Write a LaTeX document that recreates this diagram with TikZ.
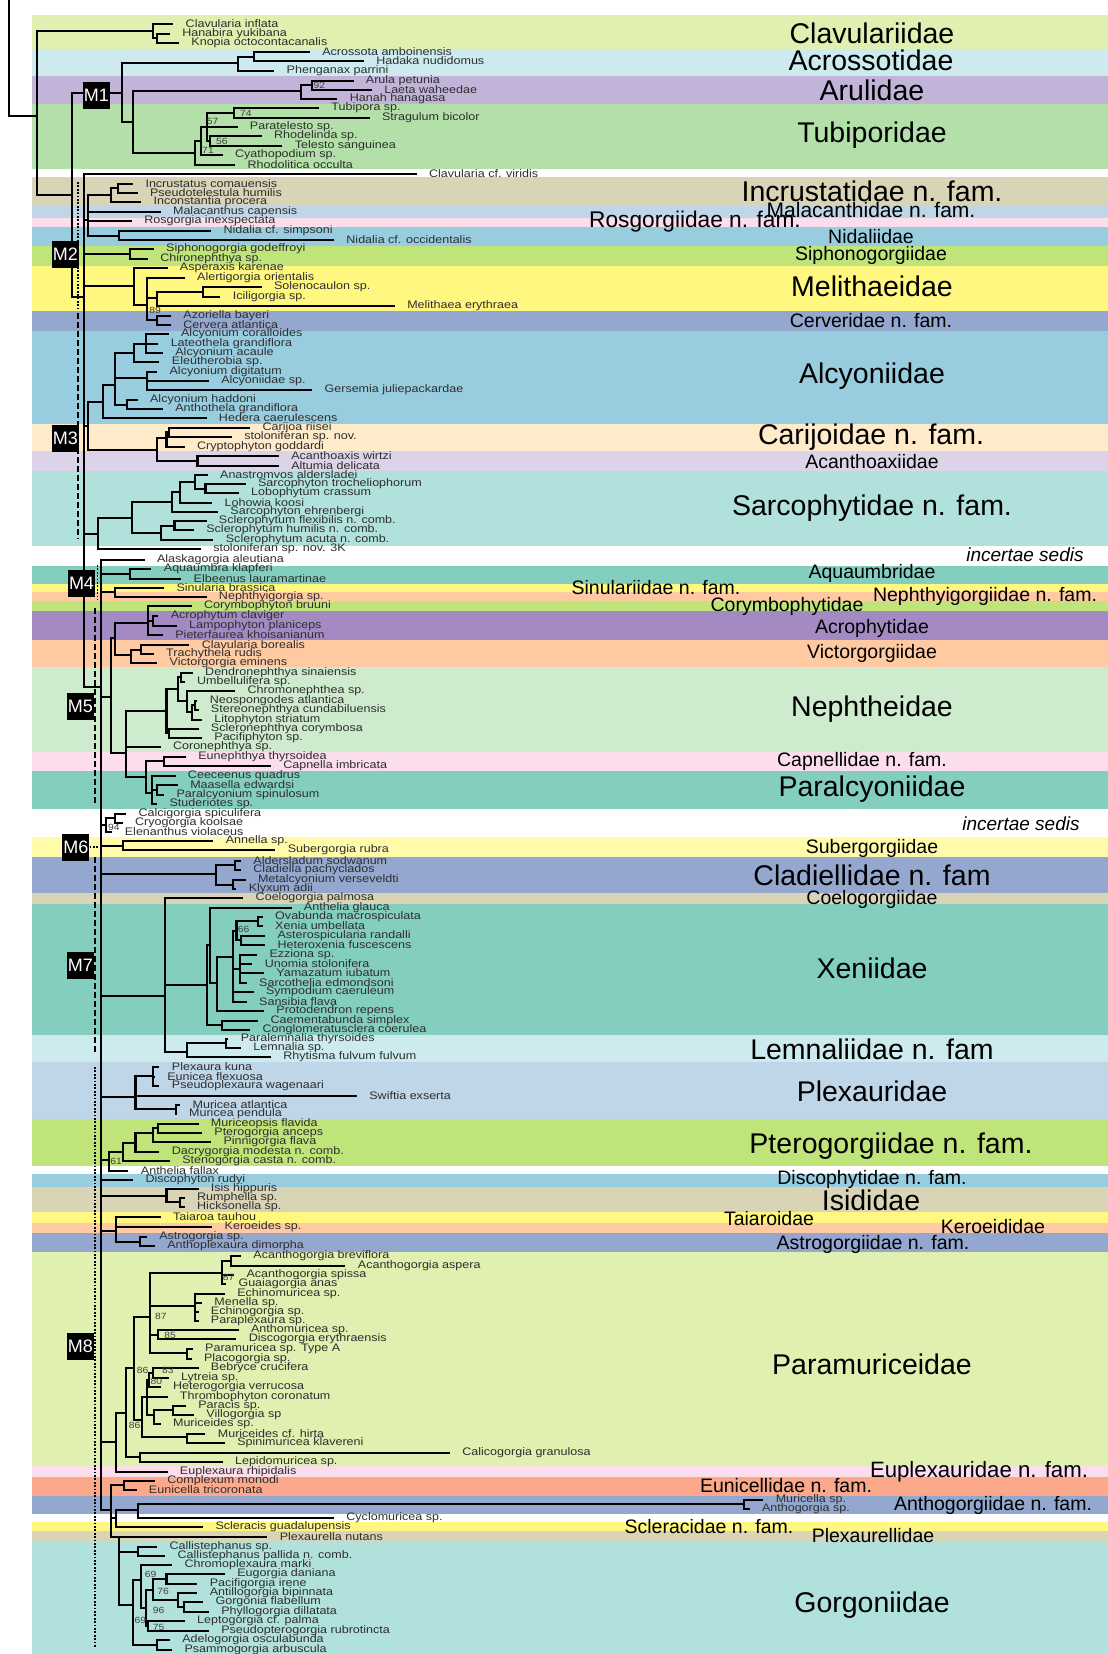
\documentclass[tikz,border=0pt]{standalone}
\usepackage{fontspec}
\setmainfont{Liberation Sans}
\newfontfamily\tipf[FakeStretch=1.15]{Liberation Sans}
\definecolor{cClav}{HTML}{E0F0B0}
\definecolor{cAcro}{HTML}{CDEBEF}
\definecolor{cAru}{HTML}{C2B3D9}
\definecolor{cTub}{HTML}{B3E0A8}
\definecolor{cTan}{HTML}{D9D4B6}
\definecolor{cLB}{HTML}{BED6E8}
\definecolor{cPink}{HTML}{FBDDEC}
\definecolor{cBlue}{HTML}{98CDDF}
\definecolor{cGreen}{HTML}{BFE479}
\definecolor{cYel}{HTML}{FFF77F}
\definecolor{cSlate}{HTML}{93A7CF}
\definecolor{cPeachL}{HTML}{FFEBC9}
\definecolor{cLav}{HTML}{DCD3E9}
\definecolor{cTealL}{HTML}{B1E1DC}
\definecolor{cTeal}{HTML}{83CEBE}
\definecolor{cPeach}{HTML}{FFC9A1}
\definecolor{cPurp}{HTML}{A48AC3}
\definecolor{cNeph}{HTML}{CEEBCE}
\definecolor{cYelL}{HTML}{FFFBAA}
\definecolor{cSalmon}{HTML}{FBA98A}
\begin{document}
\begin{tikzpicture}[x=1pt,y=-1pt,
  br/.style={line width=2.1pt,line cap=rect,line join=miter},
  tip/.style={anchor=west,inner xsep=13.5pt,inner ysep=0pt,outer sep=0pt,text=black!82,font=\tipf\fontsize{10.9}{11}\selectfont},
  famL/.style={font=\fontsize{28.5}{29}\selectfont,inner sep=0pt},
  famM/.style={font=\fontsize{19.5}{20}\selectfont,inner sep=0pt},
  famI/.style={font=\fontsize{19}{20}\selectfont\itshape,inner sep=0pt},
  bs/.style={anchor=west,inner sep=0pt,text=black!75,font=\tipf\fontsize{9}{9}\selectfont},
  mbox/.style={fill=black,text=white,minimum width=27pt,minimum height=27pt,inner sep=0pt,font=\fontsize{18}{18}\selectfont},
  dotl/.style={line width=1.7pt,dash pattern=on 1.7pt off 1.7pt},
  dashl/.style={line width=1.7pt,dash pattern=on 5.5pt off 3.5pt}]
\path[use as bounding box] (0,0) rectangle (1108,1654);
\begin{scope}[xscale=1.148]
% bands
\foreach \a/\b/\c in {15/49/cClav,49/76/cAcro,76/104/cAru,104/169/cTub,177/206/cTan,206/218/cLB,218/227/cPink,227/246/cBlue,246/266/cGreen,266/311/cYel,311/331/cSlate,331/424/cBlue,424/451/cPeachL,451/471/cLav,471/546/cTealL,566/584/cTeal,584/592/cYel,592/601/cPeach,601/611/cGreen,611/640/cPurp,640/667/cPeach,667/752/cNeph,752/771/cPink,771/809/cTeal,837/857/cYelL,857/893/cSlate,893/904/cTan,904/1035/cTeal,1035/1062/cAcro,1062/1119/cLB,1119/1166/cGreen,1174/1187/cBlue,1187/1212/cTan,1212/1223/cYel,1223/1233/cPeach,1233/1252/cSlate,1252/1466/cClav,1466/1477/cPink,1477/1496/cSalmon,1496/1514/cSlate,1522/1531/cYel,1531/1541/cTan,1541/1654/cTealL}
  \fill[\c] (28,\a) rectangle (1000,\b);
\end{scope}
% family labels
\foreach \n/\x/\y/\t in {fa1/872/33/Clavulariidae,fa2/871/60/Acrossotidae,fa3/872/90/Arulidae,fa4/872/135/Tubiporidae,fa5/872/191/Incrustatidae n. fam.,fa6/872/376/Alcyoniidae,fa7/872/286/Melithaeidae,fa8/871/437/Carijoidae n. fam.,fa9/872/508/Sarcophytidae n. fam.,fa10/872/709/Nephtheidae,fa11/872/789/Paralcyoniidae,fa12/872/875/Cladiellidae n. fam,fa13/872/968/Xeniidae,fa14/872/1049/Lemnaliidae n. fam,fa15/872/1091/Plexauridae,fa16/891/1146/Pterogorgiidae n. fam.,fa17/871/1200/Isididae,fa18/872/1364/Paramuriceidae,fa19/872/1605/Gorgoniidae}
  \node[famL] (\n) at (\x,\y) {\t};
\foreach \n/\x/\y/\t in {fb3/871/237/Nidaliidae,fb4/871/255/Siphonogorgiidae,fb5/871/321/Cerveridae n. fam.,fb6/872/462/Acanthoaxiidae,fb7/872/573/Aquaumbridae,fb8/656/588/Sinulariidae n. fam.,fb9/985/596/Nephthyigorgiidae n. fam.,fb10/787/606/Corymbophytidae,fb11/872/628/Acrophytidae,fb12/872/653/Victorgorgiidae,fb13/862/761/Capnellidae n. fam.,fb14/872/848/Subergorgiidae,fb15/872/899/Coelogorgiidae,fb16/872/1179/Discophytidae n. fam.,fb17/769/1219/Taiaroidae,fb18/993/1227/Keroeididae,fb19/873/1244/Astrogorgiidae n. fam.,fb21/786/1486/Eunicellidae n. fam.,fb22/993/1505/Anthogorgiidae n. fam.,fb23/709/1527/Scleracidae n. fam.,fb24/873/1536/Plexaurellidae}
  \node[famM] (\n) at (\x,\y) {\t};
\node[famM,font=\fontsize{21}{22}\selectfont] (fb1) at (871,210) {Malacanthidae n. fam.};
\node[famM,font=\fontsize{22.7}{23}\selectfont] (fb2) at (695,222) {Rosgorgiidae n. fam.};
\node[famM,font=\fontsize{22.2}{23}\selectfont] (fb20) at (979,1472) {Euplexauridae n. fam.};
\node[famI] (fi1) at (1025,555) {incertae sedis};
\node[famI] (fi2) at (1021,824) {incertae sedis};
\begin{scope}[xscale=1.148]
% tips
\foreach \n/\x/\y/\t in {t1/150/24/Clavularia inflata,t2/147/34/Hanabira yukibana,t3/155/43/Knopia octocontacanalis,t4/269/52/Acrossota amboinensis,t5/316/61/Hadaka nudidomus,t6/238/71/Phenganax parrini,t7/307/81/Arula petunia,t8/323/90/Laeta waheedae,t9/293/99/Hanah hanagasa,t10/277/108/Tubipora sp.,t11/321/118/Stragulum bicolor,t12/206/127/Paratelesto sp.,t13/227/136/Rhodelinda sp.,t14/245/146/Telesto sanguinea,t15/193/155/Cyathopodium sp.,t16/204/165/Rhodolitica occulta,t17/362/174/Clavularia cf. viridis,t18/115/184/Incrustatus comauensis,t19/119/193/Pseudotelestula humilis,t20/122/202/Inconstantia procera,t21/139/212/Malacanthus capensis,t22/114/221/Rosgorgia inexspectata,t23/183/231/Nidalia cf. simpsoni,t24/290/240/Nidalia cf. occidentalis,t25/133/249/Siphonogorgia godeffroyi,t26/128/259/Chironephthya sp.,t27/145/268/Asperaxis karenae,t28/160/278/Alertigorgia orientalis,t29/227/287/Solenocaulon sp.,t30/191/297/Iciligorgia sp.,t31/343/306/Melithaea erythraea,t32/148/316/Azoriella bayeri,t33/148/325/Cervera atlantica,t34/146/334/Alcyonium coralloides,t35/137/344/Lateothela grandiflora,t36/141/353/Alcyonium acaule,t37/138/362/Eleutherobia sp.,t38/136/372/Alcyonium digitatum,t39/181/381/Alcyoniidae sp.,t40/271/390/Gersemia juliepackardae,t41/119/400/Alcyonium haddoni,t42/141/409/Anthothela grandiflora,t43/179/418/Hedera caerulescens,t44/217/428/Carijoa riisei,t45/201/437/stoloniferan sp. nov.,t46/160/447/Cryptophyton goddardi,t47/242/456/Acanthoaxis wirtzi,t48/242/466/Altumia delicata,t49/180/475/Anastromvos aldersladei,t50/213/484/Sarcophyton trocheliophorum,t51/207/493/Lobophytum crassum,t52/184/503/Lohowia koosi,t53/189/512/Sarcophyton ehrenbergi,t54/179/521/Sclerophytum flexibilis n. comb.,t55/168/530/Sclerophytum humilis n. comb.,t56/185/540/Sclerophytum acuta n. comb.,t57/174/549/stoloniferan sp. nov. 3K,t58/125/560/Alaskagorgia aleutiana,t59/131/569/Aquaumbra klapferi,t60/157/579/Elbeenus lauramartinae,t61/142/588/Sinularia brassica,t62/179/597/Nephthyigorgia sp.,t63/166/606/Corymbophyton bruuni,t64/137/616/Acrophytum claviger,t65/153/626/Lampophyton planiceps,t66/141/635/Pieterfaurea khoisanianum,t67/164/645/Clavularia borealis,t68/133/654/Trachythela rudis,t69/136/663/Victorgorgia eminens,t70/167/673/Dendronephthya sinaiensis,t71/160/682/Umbellulifera sp.,t72/204/691/Chromonephthea sp.,t73/171/701/Neospongodes atlantica,t74/172/710/Stereonephthya cundabiluensis,t75/175/720/Litophyton striatum,t76/172/729/Scleronephthya corymbosa,t77/175/738/Pacifiphyton sp.,t78/139/747/Coronephthya sp.,t79/161/757/Eunephthya thyrsoidea,t80/235/766/Capnella imbricata,t81/152/776/Ceeceenus quadrus,t82/154/785/Maasella edwardsi,t83/142/795/Paralcyonium spinulosum,t84/136/804/Studeriotes sp.,t85/109/814/Calcigorgia spiculifera,t86/106/823/Cryogorgia koolsae,t87/97/832/Elenanthus violaceus,t88/185/841/Annella sp.,t89/239/850/Subergorgia rubra,t90/209/861/Aldersladum sodwanum,t91/209/870/Cladiella pachyclados,t92/213/880/Metalcyonium verseveldti,t93/205/889/Klyxum adii,t94/211/898/Coelogorgia palmosa,t95/253/908/Anthelia glauca,t96/228/917/Ovabunda macrospiculata,t97/228/926/Xenia umbellata,t98/230/936/Asterospicularia randalli,t99/230/945/Heteroxenia fuscescens,t100/223/955/Ezziona sp.,t101/219/964/Unomia stolonifera,t102/229/973/Yamazatum iubatum,t103/214/983/Sarcothelia edmondsoni,t104/220/992/Sympodium caeruleum,t105/214/1002/Sansibia flava,t106/229/1011/Protodendron repens,t107/224/1021/Caementabunda simplex,t108/217/1030/Conglomeratusclera coerulea,t109/198/1039/Paralemnalia thyrsoides,t110/209/1048/Lemnalia sp.,t111/235/1057/Rhytisma fulvum fulvum,t112/138/1067/Plexaura kuna,t113/134/1077/Eunicea flexuosa,t114/138/1086/Pseudoplexaura wagenaari,t115/310/1096/Swiftia exserta,t116/156/1105/Muricea atlantica,t117/153/1114/Muricea pendula,t118/172/1124/Muriceopsis flavida,t119/175/1133/Pterogorgia anceps,t120/183/1142/Pinnigorgia flava,t121/138/1152/Dacrygorgia modesta n. comb.,t122/147/1161/Stenogorgia casta n. comb.,t123/111/1171/Anthelia fallax,t124/115/1180/Discophyton rudyi,t125/172/1189/Isis hippuris,t126/160/1198/Rumphella sp.,t127/160/1207/Hicksonella sp.,t128/139/1217/Taiaroa tauhou,t129/184/1227/Keroeides sp.,t130/127/1237/Astrogorgia sp.,t131/134/1246/Anthoplexaura dimorpha,t132/209/1256/Acanthogorgia breviflora,t133/300/1266/Acanthogorgia aspera,t134/203/1275/Acanthogorgia spissa,t135/196/1284/Guaiagorgia anas,t136/195/1294/Echinomuricea sp.,t137/175/1303/Menella sp.,t138/172/1312/Echinogorgia sp.,t139/172/1321/Paraplexaura sp.,t140/207/1330/Anthomuricea sp.,t141/205/1339/Discogorgia erythraensis,t142/167/1349/Paramuricea sp. Type A,t143/166/1359/Placogorgia sp.,t144/172/1368/Bebryce crucifera,t145/146/1378/Lytreia sp.,t146/139/1387/Heterogorgia verrucosa,t147/145/1397/Thrombophyton coronatum,t148/161/1406/Paracis sp.,t149/168/1415/Villogorgia sp,t150/139/1424/Muriceides sp.,t151/178/1434/Muriceides cf. hirta,t152/195/1443/Spinimuricea klavereni,t153/391/1453/Calicogorgia granulosa,t154/193/1462/Lepidomuricea sp.,t155/145/1472/Euplexaura rhipidalis,t156/134/1481/Complexum monodi,t157/118/1490/Eunicella tricoronata,t158/664/1500/Muricella sp.,t159/652/1509/Anthogorgia sp.,t160/290/1518/Cyclomuricea sp.,t161/176/1527/Scleracis guadalupensis,t162/232/1537/Plexaurella nutans,t163/136/1547/Callistephanus sp.,t164/143/1556/Callistephanus pallida n. comb.,t165/149/1565/Chromoplexaura marki,t166/195/1574/Eugorgia daniana,t167/171/1584/Pacifigorgia irene,t168/171/1593/Antillogorgia bipinnata,t169/176/1602/Gorgonia flabellum,t170/181/1612/Phyllogorgia dillatata,t171/160/1621/Leptogorgia cf. palma,t172/181/1631/Pseudopterogorgia rubrotincta,t173/147/1640/Adelogorgia osculabunda,t174/149/1650/Psammogorgia arbuscula}
  \node[tip] (\n) at (\x,\y) {\t};
% internal nodes
\foreach \n/\x/\y in {nrt/8/0,n1/32/116,nc0/133/31,nc0a/137/38,n2/63/195,nm1/106/93,nac/207/63,nac2/221/57,nmt/116/122,nar/262/91,nar2/272/85,ntb0/170/153,ntb1/175/141,ntb2/180/127,ntb3/204/113,ntb4/183/141,nb1/73/297,nm2a/77/220,nin/97/195,nin2/103/188,nni/104/236,nsp/113/254,nme/117/286,nme2/128/305,nme3/137/298,nso/177/292,ncv/137/320,nm3a/77/426,na0/90/402,na1/100/385,na2/117/353,na3/127/344,na5/128/378,na6/111/405,ncr/137/450,nc1/145/438,nc2/147/432,nacx/172/461,ns0/85/534,ns1/115/518,ns2/150/502,ns4/157/492,ns5/170/482,ns6/179/489,ns3/140/533,ns7/152/526,nbb/88/687,naq/113/574,nsi/100/592,n5a/97/697,ncv0/100/638,nco/129/623,nco2/133/621,nvi/114/655,nvi2/123/650,nne/110/753,nnec/145/711,nnd/155/689,ndu/158/677,nnc/163/701,nns/167/712,nns2/170/705,nsc/147/733,nnp/127/777,nca/143/761,npa/132/793,npa2/137/790,nis/92/825,nis2/100/818,nsu/107/846,ncl/188/874,ncl2/205/865,ncl3/203/885,nxl/144/996,nxe/180/985,nxe1/183/945,nxe2/189/983,nxe3/203/957,nxe4/206/931,nox/225/921,nah/210/940,nez/209/969,ncc/193/1025,nle/163/1052,nlm/197/1043,npx/118/1097,npk/133/1076,nmu/153/1109,npt00/95/1160,npt0/107/1152,npt1/118/1143,npt2/133/1133,npt3/138/1128,nisi/145/1196,nrh/157/1202,nta/101/1231,nas/122/1242,npmr/101/1442,npma/110/1413,npm2/117/1368,npm1/131/1317,nac0/193/1273,nac1/201/1261,nem/170/1306,nad/138/1335,npp/163/1353,npmc/124/1420,npmd/128/1397,nblh/130/1380,nbl/133/1373,npvm/134/1415,npv/151/1410,nms/163/1437,nlc/122/1457,nr1/97/1510,neu/108/1485,nr2/101/1518,nan/120/1510,nma/648/1504,nr3/104/1537,ncs/120/1552,ng1/116/1605,ng2/123/1580,n96/127/1608,n76/133/1590,n75/129/1626,nep/145/1579,nagp/155/1600,ngp/160/1607,nao/137/1645}
  \coordinate (\n) at (\x,\y);
% branches
\foreach \p/\c in {nrt/n1,n1/nc0,n1/n2,nc0/t1,nc0/nc0a,nc0a/t2,nc0a/t3,n2/nm1,n2/nb1,nm1/nac,nm1/nmt,nac/nac2,nac/t6,nac2/t4,nac2/t5,nmt/nar,nmt/ntb0,nar/nar2,nar/t9,nar2/t7,nar2/t8,ntb0/ntb1,ntb0/t16,ntb1/ntb2,ntb1/t15,ntb2/ntb3,ntb2/t12,ntb2/ntb4,ntb3/t10,ntb3/t11,ntb4/t13,ntb4/t14,nb1/t17,nb1/nm2a,nb1/nsp,nb1/nme,nb1/nm3a,nb1/ns0,nb1/nbb,nm2a/nin,nm2a/t21,nm2a/t22,nm2a/nni,nin/nin2,nin/t20,nin2/t18,nin2/t19,nni/t23,nni/t24,nsp/t25,nsp/t26,nme/t27,nme/nme2,nme2/t28,nme2/nme3,nme2/ncv,nme3/nso,nme3/t31,nso/t29,nso/t30,ncv/t32,ncv/t33,nm3a/na0,nm3a/ncr,na0/na1,na0/t43,na1/na2,na1/na5,na1/na6,na2/na3,na2/t37,na3/t34,na3/t35,na3/t36,na5/t38,na5/t39,na5/t40,na6/t41,na6/t42,ncr/nc1,ncr/nacx,nc1/nc2,nc1/t46,nc2/t44,nc2/t45,nacx/t47,nacx/t48,ns0/ns1,ns0/t57,ns1/ns2,ns1/ns3,ns2/ns4,ns2/t53,ns4/ns5,ns4/t52,ns5/t49,ns5/ns6,ns6/t50,ns6/t51,ns3/ns7,ns3/t56,ns7/t54,ns7/t55,nbb/t58,nbb/naq,nbb/nsi,nbb/n5a,nbb/nis,nbb/nsu,nbb/ncl,nbb/nxl,nbb/npx,nbb/npt00,nbb/t124,nbb/nisi,nbb/nta,nbb/npmr,nbb/nr1,naq/t59,naq/t60,nsi/t61,nsi/t62,n5a/ncv0,n5a/nne,ncv0/nco,ncv0/nvi,nco/t63,nco/nco2,nco/t66,nco2/t64,nco2/t65,nvi/nvi2,nvi/t69,nvi2/t67,nvi2/t68,nne/nnec,nne/t78,nne/nnp,nnec/nnd,nnec/nsc,nnd/ndu,nnd/nnc,ndu/t70,ndu/t71,nnc/t72,nnc/nns,nns/nns2,nns/t75,nns2/t73,nns2/t74,nsc/t76,nsc/t77,nnp/nca,nnp/npa,nca/t79,nca/t80,npa/t81,npa/npa2,npa/t84,npa2/t82,npa2/t83,nis/nis2,nis/t87,nis2/t85,nis2/t86,nsu/t88,nsu/t89,ncl/ncl2,ncl/ncl3,ncl2/t90,ncl2/t91,ncl3/t92,ncl3/t93,nxl/t94,nxl/nxe,nxl/nle,nxe/nxe1,nxe/ncc,nxe1/t95,nxe1/nxe2,nxe2/nxe3,nxe2/t106,nxe3/nxe4,nxe3/nez,nxe3/t104,nxe3/t105,nxe4/nox,nxe4/nah,nox/t96,nox/t97,nah/t98,nah/t99,nez/t100,nez/t101,nez/t102,nez/t103,ncc/t107,ncc/t108,nle/nlm,nle/t111,nlm/t109,nlm/t110,npx/npk,npx/t115,npx/nmu,npk/t112,npk/t113,npk/t114,nmu/t116,nmu/t117,npt00/npt0,npt00/t123,npt0/npt1,npt0/t122,npt1/npt2,npt1/t121,npt2/npt3,npt2/t120,npt3/t118,npt3/t119,nisi/t125,nisi/nrh,nrh/t126,nrh/t127,nta/t128,nta/t129,nta/nas,nas/t130,nas/t131,npmr/npma,npmr/t155,npma/npm2,npma/nlc,npm2/npm1,npm2/npmc,npm1/nac0,npm1/nem,npm1/nad,npm1/npp,nac0/nac1,nac0/t134,nac0/t135,nac1/t132,nac1/t133,nem/t136,nem/t137,nem/t138,nem/t139,nad/t140,nad/t141,npp/t142,npp/t143,npmc/npmd,npmc/nms,npmd/nblh,npmd/t147,npmd/npvm,nblh/nbl,nblh/t146,nbl/t144,nbl/t145,npvm/npv,npvm/t150,npv/t148,npv/t149,nms/t151,nms/t152,nlc/t153,nlc/t154,nr1/neu,nr1/nr2,nr1/nr3,neu/t156,neu/t157,nr2/nan,nr2/t161,nan/nma,nan/t160,nma/t158,nma/t159,nr3/t162,nr3/ncs,nr3/ng1,ncs/t163,ncs/t164,ng1/ng2,ng1/nao,ng2/t165,ng2/n96,n96/n76,n96/n75,n76/nep,n76/nagp,nep/t166,nep/t167,nagp/t168,nagp/ngp,ngp/t169,ngp/t170,n75/t171,n75/t172,nao/t173,nao/t174}
  \draw[br] (\p) |- (\c);
% bootstrap values
\foreach \n/\x/\y/\t in {b1/273/85/92,b2/209/113/74,b3/180/121/57,b4/188/141/56,b5/176/150/71,b6/130/310/89,b7/207/929/66,b8/96/1161/61,b9/94/827/94,b10/194/1277/87,b11/135/1316/87,b12/143/1335/85,b13/119/1370/86,b14/141/1370/83,b15/131/1381/80,b16/112/1425/86,b17/126/1574/69,b18/137/1591/76,b19/133/1610/96,b20/117/1620/69,b21/133/1627/75}
  \node[bs] (\n) at (\x,\y) {\t};
% clade extent lines
\foreach \n/\x/\y in {d1a/68/182,d1b/68/309,d2a/68/313,d2b/68/539,d3a/85/565,d3b/85/600,d4a/83/608,d4b/83/803,d5a/78/847,d5b/87/847,d6a/83/857,d6b/83/1053,d7a/83/1067,d7b/83/1647}
  \coordinate (\n) at (\x,\y);
\draw[dotl] (d1a) -- (d1b);
\draw[dashl] (d2a) -- (d2b);
\draw[dotl] (d3a) -- (d3b);
\draw[dashl] (d4a) -- (d4b);
\draw[dotl] (d5a) -- (d5b);
\draw[dashl] (d6a) -- (d6b);
\draw[dotl] (d7a) -- (d7b);
% M boxes
\foreach \n/\x/\y/\t in {M1/84/95/M1,M2/57/254/M2,M3/57/438/M3,M4/71/583/M4,M5/70/706/M5,M6/66/847/M6,M7/70/965/M7,M8/70/1346/M8}
  \node[mbox] (\n) at (\x,\y) {\t};
\end{scope}
\end{tikzpicture}
\end{document}
